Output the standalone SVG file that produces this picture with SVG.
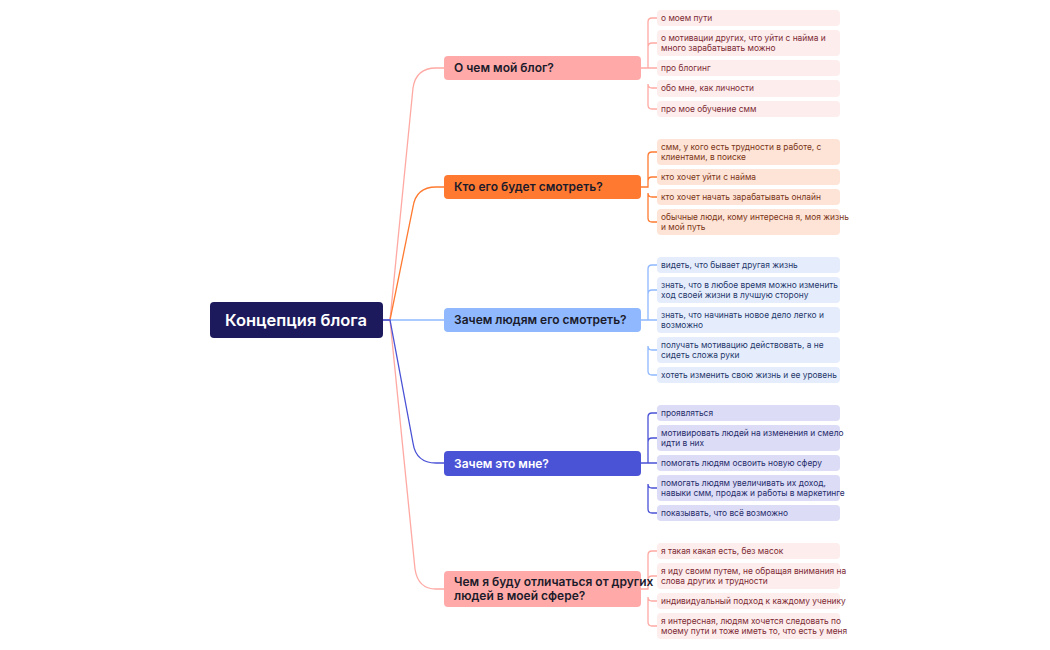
<svg xmlns="http://www.w3.org/2000/svg" width="1050" height="650" viewBox="0 0 1050 650">
<style>
text{font-family:Inter,"Noto Sans","Liberation Sans",sans-serif}
.b{font-size:12px;font-weight:600;fill:#1b1b2b}
.l{font-size:8.4px}
.c{fill:none;stroke-width:1.3}
.p1 rect{fill:#fdeded}.p1 text{fill:#7c2a33}
.o1 rect{fill:#fee4d6}.o1 text{fill:#7a3518}
.u1 rect{fill:#e5edfd}.u1 text{fill:#26386a}
.v1 rect{fill:#dcdcf6}.v1 text{fill:#262c6a}
</style>
<rect width="1050" height="650" fill="#fff"/>
<g id="connectors">
<g class="c" stroke="#ffa9a3">
<path d="M383 320H390L413 88Q416 68 436 68H444"/>
<path d="M383 320H390L415 569Q418 589 436 589H444"/>
</g>
<path class="c" stroke="#ff7a30" d="M383 320H390L413 207Q416 187 436 187H444"/>
<path class="c" stroke="#8fb8ff" d="M383 320H444"/>
<path class="c" stroke="#4a52d6" d="M383 320H390L413 443Q416 463 436 463H444"/>
<g class="c" stroke="#ffa9a3">
<path d="M641 68H648V22Q648 18 652 18H657M648 47Q648 43 652 43H657M641 68H657M648 84Q648 88 652 88H657M648 84V105Q648 109 652 109H657"/>
<path d="M641 589H648V555Q648 551 652 551H657M648 580Q648 576 652 576H657M648 597Q648 601 652 601H657M648 597V622Q648 626 652 626H657"/>
</g>
<path class="c" stroke="#ff7a30" d="M641 187H648V156Q648 152 652 152H657M648 181Q648 177 652 177H657M648 193Q648 197 652 197H657M648 193V218Q648 222 652 222H657"/>
<path class="c" stroke="#8fb8ff" d="M641 320H648V269Q648 265 652 265H657M648 294Q648 290 652 290H657M641 320H657M648 346Q648 350 652 350H657M648 346V371Q648 375 652 375H657"/>
<path class="c" stroke="#4a52d6" d="M641 463H648V417Q648 413 652 413H657M648 442Q648 438 652 438H657M641 463H657M648 484Q648 488 652 488H657M648 484V509Q648 513 652 513H657"/>
</g>
<g id="root"><rect x="210" y="302" width="173" height="36" rx="4" fill="#1c1a5c"/><text x="296" y="326" text-anchor="middle" font-size="16.5" font-weight="600" fill="#fff">Концепция блога</text></g>
<g id="b1"><rect x="444" y="56" width="197" height="24" rx="4" fill="#ffaaa8"/><text class="b" x="454" y="72">О чем мой блог?</text></g>
<g id="b2"><rect x="444" y="175" width="197" height="24" rx="4" fill="#ff7a30"/><text class="b" x="454" y="191">Кто его будет смотреть?</text></g>
<g id="b3"><rect x="444" y="308" width="197" height="24" rx="4" fill="#8fb8ff"/><text class="b" x="454" y="324">Зачем людям его смотреть?</text></g>
<g id="b4"><rect x="444" y="451" width="197" height="25" rx="4" fill="#4a52d6"/><text class="b" x="454" y="468" style="fill:#fff">Зачем это мне?</text></g>
<g id="b5"><rect x="444" y="571" width="197" height="36" rx="4" fill="#ffaaa8"/><text class="b" x="454" y="586">Чем я буду отличаться от других</text><text class="b" x="454" y="600">людей в моей сфере?</text></g>
<g class="p1">
<g id="l1"><rect x="657" y="10" width="183" height="16" rx="4"/><text class="l" x="661" y="21">о моем пути</text></g>
<g id="l2"><rect x="657" y="30" width="183" height="26" rx="4"/><text class="l" x="661" y="41">о мотивации других, что уйти с найма и</text><text class="l" x="661" y="51">много зарабатывать можно</text></g>
<g id="l3"><rect x="657" y="60" width="183" height="16" rx="4"/><text class="l" x="661" y="71">про блогинг</text></g>
<g id="l4"><rect x="657" y="80" width="183" height="17" rx="4"/><text class="l" x="661" y="91">обо мне, как личности</text></g>
<g id="l5"><rect x="657" y="101" width="183" height="16" rx="4"/><text class="l" x="661" y="112">про мое обучение смм</text></g>
</g>
<g class="o1">
<g id="l6"><rect x="657" y="139" width="183" height="26" rx="4"/><text class="l" x="661" y="150">смм, у кого есть трудности в работе, с</text><text class="l" x="661" y="160">клиентами, в поиске</text></g>
<g id="l7"><rect x="657" y="169" width="183" height="16" rx="4"/><text class="l" x="661" y="180">кто хочет уйти с найма</text></g>
<g id="l8"><rect x="657" y="189" width="183" height="16" rx="4"/><text class="l" x="661" y="200">кто хочет начать зарабатывать онлайн</text></g>
<g id="l9"><rect x="657" y="209" width="183" height="26" rx="4"/><text class="l" x="661" y="220">обычные люди, кому интересна я, моя жизнь</text><text class="l" x="661" y="230">и мой путь</text></g>
</g>
<g class="u1">
<g id="l10"><rect x="657" y="257" width="183" height="16" rx="4"/><text class="l" x="661" y="268">видеть, что бывает другая жизнь</text></g>
<g id="l11"><rect x="657" y="277" width="183" height="26" rx="4"/><text class="l" x="661" y="288">знать, что в любое время можно изменить</text><text class="l" x="661" y="298">ход своей жизни в лучшую сторону</text></g>
<g id="l12"><rect x="657" y="307" width="183" height="26" rx="4"/><text class="l" x="661" y="318">знать, что начинать новое дело легко и</text><text class="l" x="661" y="328">возможно</text></g>
<g id="l13"><rect x="657" y="337" width="183" height="26" rx="4"/><text class="l" x="661" y="348">получать мотивацию действовать, а не</text><text class="l" x="661" y="358">сидеть сложа руки</text></g>
<g id="l14"><rect x="657" y="367" width="183" height="16" rx="4"/><text class="l" x="661" y="378">хотеть изменить свою жизнь и ее уровень</text></g>
</g>
<g class="v1">
<g id="l15"><rect x="657" y="405" width="183" height="16" rx="4"/><text class="l" x="661" y="416">проявляться</text></g>
<g id="l16"><rect x="657" y="425" width="183" height="26" rx="4"/><text class="l" x="661" y="436">мотивировать людей на изменения и смело</text><text class="l" x="661" y="446">идти в них</text></g>
<g id="l17"><rect x="657" y="455" width="183" height="16" rx="4"/><text class="l" x="661" y="466">помогать людям освоить новую сферу</text></g>
<g id="l18"><rect x="657" y="475" width="183" height="26" rx="4"/><text class="l" x="661" y="486">помогать людям увеличивать их доход,</text><text class="l" x="661" y="496">навыки смм, продаж и работы в маркетинге</text></g>
<g id="l19"><rect x="657" y="505" width="183" height="16" rx="4"/><text class="l" x="661" y="516">показывать, что всё возможно</text></g>
</g>
<g class="p1">
<g id="l20"><rect x="657" y="543" width="183" height="16" rx="4"/><text class="l" x="661" y="554">я такая какая есть, без масок</text></g>
<g id="l21"><rect x="657" y="563" width="183" height="26" rx="4"/><text class="l" x="661" y="574">я иду своим путем, не обращая внимания на</text><text class="l" x="661" y="584">слова других и трудности</text></g>
<g id="l22"><rect x="657" y="593" width="183" height="16" rx="4"/><text class="l" x="661" y="604">индивидуальный подход к каждому ученику</text></g>
<g id="l23"><rect x="657" y="613" width="183" height="26" rx="4"/><text class="l" x="661" y="624">я интересная, людям хочется следовать по</text><text class="l" x="661" y="634">моему пути и тоже иметь то, что есть у меня</text></g>
</g>
</svg>
